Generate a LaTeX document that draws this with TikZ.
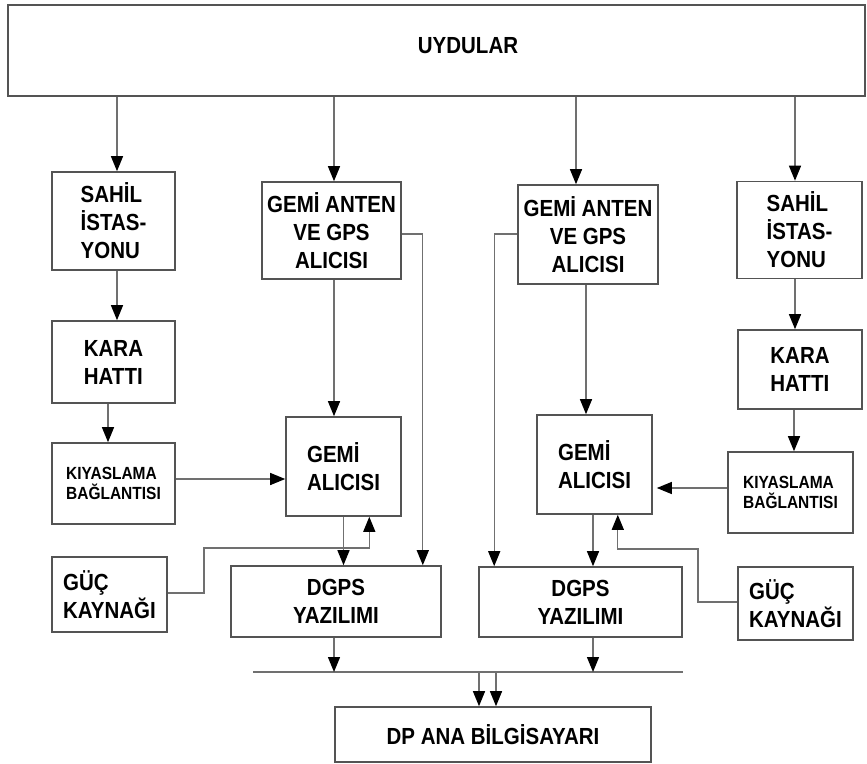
\documentclass[tikz,border=0pt]{standalone}
\usepackage{fontspec}
\setmainfont{Liberation Sans}[FakeStretch=0.88]
\usetikzlibrary{arrows.meta}

\definecolor{boxline}{HTML}{545454}
\definecolor{wire}{HTML}{707070}

\tikzset{
  blk/.style={draw=boxline, line width=1.6pt, rectangle, inner sep=0pt,
    font=\fontsize{23.3}{28}\selectfont\bfseries, align=center},
  lft/.style={align=left},
  small/.style={font=\fontsize{17.6}{20}\selectfont\bfseries},
  wireline/.style={draw=wire, line width=1.3pt},
  arr/.style={wireline, -{Triangle[length=15pt,width=12pt,color=black]}},
}

\begin{document}
\begin{tikzpicture}[x=1pt,y=-1pt]
\useasboundingbox (0,0) rectangle (867,763);

% satellites
\node[blk, minimum width=857, minimum height=91] (uydu) at (436.5,50.5)
  {\hspace*{63pt}\raisebox{10pt}{UYDULAR}};

% left chain
\node[blk, lft, minimum width=123, minimum height=98] (sahilL) at (113.5,221) {SAHİL\\İSTAS-\\YONU};
\node[blk, lft, minimum width=123, minimum height=82] (karaL) at (113.5,362) {KARA\\HATTI};
\node[blk, lft, small, minimum width=123, minimum height=81] (kiyasL) at (113.5,483.5) {KIYASLAMA\\BAĞLANTISI};
\node[blk, lft, minimum width=115, minimum height=75] (gucL) at (109.5,594.5) {GÜÇ\\KAYNAĞI};

\node[blk, minimum width=139, minimum height=97] (ganL) at (331.5,230.5) {GEMİ ANTEN\\VE GPS\\ALICISI};
\node[blk, lft, minimum width=115, minimum height=99] (galL) at (343.5,466.5) {GEMİ\\ALICISI};
\node[blk, minimum width=210, minimum height=71] (dgpsL) at (336,601.5) {DGPS\\YAZILIMI};

% right chain
\node[blk, minimum width=140, minimum height=99] (ganR) at (588,234.5) {GEMİ ANTEN\\VE GPS\\ALICISI};
\node[blk, lft, minimum width=115, minimum height=99] (galR) at (594.5,464.5) {GEMİ\\ALICISI};
\node[blk, minimum width=203, minimum height=70] (dgpsR) at (580.5,602) {DGPS\\YAZILIMI};

\node[blk, lft, minimum width=125, minimum height=97] (sahilR) at (799.5,230) {SAHİL\\İSTAS-\\YONU};
\node[blk, lft, minimum width=124, minimum height=79] (karaR) at (800,369.5) {KARA\\HATTI};
\node[blk, lft, small, minimum width=125, minimum height=81] (kiyasR) at (790.5,492.5) {KIYASLAMA\\BAĞLANTISI};
\node[blk, lft, minimum width=115, minimum height=73] (gucR) at (795.5,603.5) {GÜÇ\\KAYNAĞI};

% main computer
\node[blk, minimum width=316, minimum height=55] (dp) at (493,734.5) {DP ANA BİLGİSAYARI};

% common bus
\coordinate (busL) at (253,672);
\coordinate (busR) at (683,672);
\draw[wireline] (busL) -- (busR);

% satellite links
\draw[arr] ([xshift=3.5]sahilL.north |- uydu.south) -- ([xshift=3.5]sahilL.north);
\draw[arr] ([xshift=2.5]ganL.north |- uydu.south) -- ([xshift=2.5]ganL.north);
\draw[arr] ([xshift=-12]ganR.north |- uydu.south) -- ([xshift=-12]ganR.north);
\draw[arr] ([xshift=-4.5]sahilR.north |- uydu.south) -- ([xshift=-4.5]sahilR.north);

% left reference chain
\draw[arr] ([xshift=3.5]sahilL.south) -- ([xshift=3.5]sahilL.south |- karaL.north);
\draw[arr] ([xshift=-5.5]karaL.south) -- ([xshift=-5.5]karaL.south |- kiyasL.north);
\draw[arr] (kiyasL.east |- 0,479) -- (galL.west |- 0,479);

% right reference chain
\draw[arr] ([xshift=-4.5]sahilR.south) -- ([xshift=-4.5]sahilR.south |- karaR.north);
\draw[arr] ([xshift=-6]karaR.south) -- ([xshift=-6]karaR.south |- kiyasR.north);
\draw[arr] (kiyasR.west |- 0,488) -- ([xshift=4]galR.east |- 0,488);

% antennas to receivers and software
\draw[arr] ([xshift=2.5]ganL.south) -- ([xshift=2.5]ganL.south |- galL.north);
\draw[arr] (ganL.east |- 0,234) -| ([xshift=-19]dgpsL.north east);
\draw[arr] ([xshift=-2]ganR.south) -- ([xshift=-2]ganR.south |- galR.north);
\draw[arr] (ganR.west |- 0,234) -| ([xshift=16]dgpsR.north west);

% receivers to software
\draw[arr] (galL.south) -- (galL.south |- dgpsL.north);
\draw[arr] ([xshift=-1.5]galR.south) -- ([xshift=-1.5]galR.south |- dgpsR.north);

% power supplies
\draw[arr] (gucL.east |- 0,593) -- (204,593) -- (204,548) -| ([xshift=-32.5]galL.south east);
\draw[arr] (gucR.west |- 0,602) -- (698,602) -- (698,549) -| ([xshift=-35]galR.south east);

% software to bus, bus to main computer
\draw[arr] ([xshift=-2]dgpsL.south) -- ([xshift=-2]dgpsL.south |- busL);
\draw[arr] ([xshift=12.5]dgpsR.south) -- ([xshift=12.5]dgpsR.south |- busL);
\draw[arr] ([xshift=-14]dp.north |- busL) -- ([xshift=-14]dp.north);
\draw[arr] ([xshift=3]dp.north |- busL) -- ([xshift=3]dp.north);
\end{tikzpicture}
\end{document}
